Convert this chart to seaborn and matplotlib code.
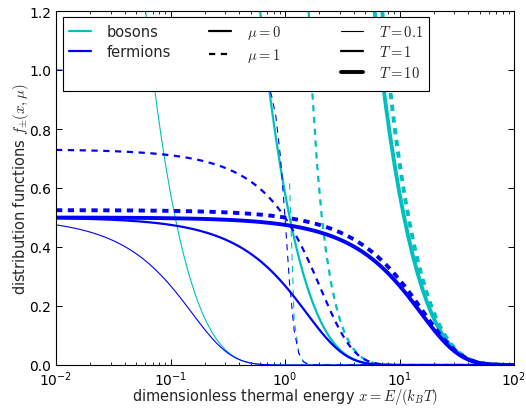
import numpy as np
import pandas as pd
import matplotlib
matplotlib.use("Agg")
import matplotlib.pyplot as plt
import seaborn as sns
from matplotlib.lines import Line2D

# Quantum statistics: f = 1 / (exp((x - mu) / T) + sign)
particles = ["bosons", "fermions"]
denominator_signs = [-1, 1]
particle_colors = ["#00bfbf", "#0000ff"]
chem_potentials = [0, 1]
temperatures = [0.1, 1, 10]
x_limits = [1e-2, 1e2]
n_samples = 101
y_limits = [0.0, 1.2]
y_ticks = [0.0, 0.2, 0.4, 0.6, 0.8, 1.0, 1.2]

sns.set_style("ticks")
plt.rcParams.update({
    "font.family": ["DejaVu Sans"],
    "mathtext.fontset": "cm",
    "lines.scale_dashes": False,
    "axes.edgecolor": "black",
    "axes.linewidth": 0.8,
    "xtick.direction": "in",
    "ytick.direction": "in",
    "xtick.top": True,
    "ytick.right": True,
    "xtick.major.size": 4.5,
    "ytick.major.size": 4.5,
    "xtick.minor.size": 2.2,
    "xtick.major.width": 0.7,
    "ytick.major.width": 0.7,
    "xtick.minor.width": 0.6,
    "xtick.color": "black",
    "ytick.color": "black",
    "xtick.labelsize": 10,
    "ytick.labelsize": 10,
    "xtick.major.pad": 3,
})

x = np.logspace(np.log10(x_limits[0]), np.log10(x_limits[1]), n_samples)

frames = []
with np.errstate(over="ignore", divide="ignore", invalid="ignore"):
    for name, sign in zip(particles, denominator_signs):
        for mu in chem_potentials:
            for T in temperatures:
                f = 1.0 / (np.exp((x - mu) / T) + sign)
                if sign < 0:
                    # Bose-Einstein occupation only defined for x > mu
                    f = np.where(x > mu, f, np.nan)
                frames.append(pd.DataFrame({"x": x, "f": f, "particle": name,
                                            "mu": mu, "T": T}))
df = pd.concat(frames, ignore_index=True).dropna()

widths = {0.1: 0.8, 1: 1.6, 10: 2.8}
dash_map = {0: "", 1: (4.5, 4.0)}

fig = plt.figure(figsize=(5.26, 4.10), dpi=100)
ax = fig.add_axes([56 / 526, 1 - 366 / 410, 458 / 526, 354 / 410])

sns.lineplot(data=df, x="x", y="f", hue="particle",
             palette=dict(zip(particles, particle_colors)),
             style="mu", dashes=dash_map, size="T", sizes=widths,
             estimator=None, sort=False, legend=False, ax=ax)

ax.set_xscale("log")
ax.set_xlim(*x_limits)
ax.set_ylim(*y_limits)
ax.set_yticks(y_ticks)
ax.set_yticklabels([f"{v:.1f}" for v in y_ticks])
ax.set_xlabel(r"dimensionless thermal energy $x = E/(k_B T)$",
              fontsize=10.5, labelpad=-1.5)
ax.set_ylabel(r"distribution functions $f_{\pm}(x, \mu)$",
              fontsize=10.5, labelpad=-1)
for s in ax.spines.values():
    s.set_visible(True)
    s.set_color("black")

# Legend: particle colour, chemical potential line style, temperature width
blank = Line2D([], [], color="none", lw=0)
handles = [
    Line2D([], [], color=particle_colors[0], lw=1.6),
    Line2D([], [], color=particle_colors[1], lw=1.6),
    blank,
    Line2D([], [], color="black", lw=1.6, ls="-"),
    Line2D([], [], color="black", lw=1.6, dashes=dash_map[1]),
    blank,
    Line2D([], [], color="black", lw=widths[0.1]),
    Line2D([], [], color="black", lw=widths[1]),
    Line2D([], [], color="black", lw=widths[10]),
]
labels = [
    particles[0], particles[1], "",
    rf"$\mu = {chem_potentials[0]}$", rf"$\mu = {chem_potentials[1]}$", "",
    rf"$T = {temperatures[0]}$", rf"$T = {temperatures[1]}$", rf"$T = {temperatures[2]}$",
]
leg = ax.legend(handles, labels, ncol=3, loc="upper left",
                bbox_to_anchor=(7 / 458, 1 - 6 / 354), borderaxespad=0,
                fontsize=10.5, handlelength=1.5, handletextpad=1.1,
                columnspacing=2.6, labelspacing=0.38, borderpad=0.4,
                frameon=True, fancybox=False, framealpha=1, shadow=False)
leg.get_frame().set_edgecolor("black")
leg.get_frame().set_linewidth(0.8)

# widen the middle (chemical potential) column of the legend
mu_column = leg._legend_handle_box.get_children()[1]
mu_column.align = "left"
mu_column.width = 0.94 * fig.dpi

fig.savefig("out.png", dpi=100)
